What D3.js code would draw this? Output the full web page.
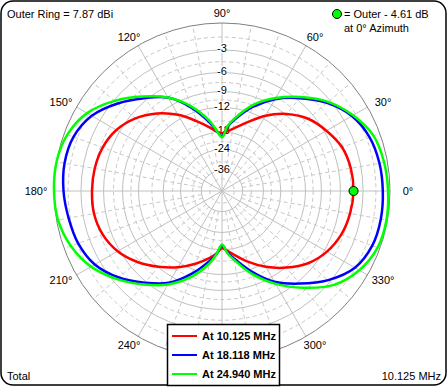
<!DOCTYPE html>
<html>
<head>
<meta charset="utf-8">
<script src="https://cdn.jsdelivr.net/npm/d3@7"></script>
<style>
  body { margin: 0; background: #fff; }
  svg { display: block; font-family: "Liberation Sans", Arial, sans-serif; }
</style>
</head>
<body>
<svg id="chart" width="448" height="387"></svg>
<script>
// azimuth angles (deg), denser near the nulls
const angles = [0, 10, 20, 30, 40, 50, 60, 70, 80, 85, 90, 95, 100, 110, 120, 130, 140, 150, 160, 170,
  180, 190, 200, 210, 220, 230, 240, 250, 260, 265, 270, 275, 280, 290, 300, 310, 320, 330, 340, 350];

// dB relative to outer ring
const gain10 = [-4.2, -4.3, -4.7, -5.7, -6.9, -8.8, -11.3, -14.3, -16.8, -17.7, -18.3, -17.8, -16.6, -14.0, -11.1, -8.7, -6.8, -5.5, -4.8, -4.5,
  -4.4, -4.4, -4.8, -5.7, -7.2, -9.1, -11.1, -13.3, -15.6, -16.9, -18.5, -17.7, -16.5, -13.8, -11.2, -8.9, -6.9, -5.6, -4.8, -4.4];
const gain18 = [-0.75, -0.85, -1.15, -1.95, -3.5, -5.6, -7.9, -10.8, -14.4, -16.4, -19.2, -17.6, -15.2, -11.0, -7.6, -5.6, -3.6, -1.9, -1.05, -0.85,
  -1.0, -1.3, -1.6, -2.3, -3.8, -5.8, -7.9, -11.1, -14.8, -16.7, -19.3, -17.2, -15.4, -11.6, -8.1, -5.65, -3.3, -1.55, -0.85, -0.7];
const gain24 = [-0.2, -0.35, -0.7, -1.8, -3.3, -5.4, -7.7, -10.4, -14.1, -16.2, -19.6, -17.5, -14.8, -10.7, -7.6, -5.3, -3.1, -1.3, -0.35, 0,
  0, -0.15, -0.75, -1.8, -3.5, -5.5, -7.6, -10.4, -14.1, -16.7, -19.6, -17.0, -15.0, -11.0, -7.7, -4.9, -2.4, -1.0, -0.25, -0.1];

const seriesNames = ["At 10.125 MHz", "At 18.118 MHz", "At 24.940 MHz"];
const seriesColors = ["#ff0000", "#0000ff", "#00ff00"];

// grid rings
const ringLabels = [-3, -6, -9, -12, -18, -24, -36];
const ringMinor = [-1.5, -4.5, -7.5, -10.5, -15, -21, -30, -45];
const angleTicks = d3.range(0, 360, 30);
const angleMinor = d3.range(0, 360, 10).filter(a => a % 30 !== 0);
// 270 sits under the legend
const angleLabels = angleTicks.filter(a => a !== 270);

const markerDb = gain10[0];

const svg = d3.select("#chart");
const cx = 222, cy = 191, R = 168;

// ARRL log scale: 0.89 per 2 dB
const rLin = d3.scaleLinear().domain([0, 1]).range([0, R]);
const r = db => rLin(Math.pow(0.89, -db / 2));
const toRad = a => (90 - a) * Math.PI / 180;

// frame
svg.append("rect")
  .attr("x", 1).attr("y", 1).attr("width", 445).attr("height", 384)
  .attr("rx", 12).attr("fill", "#fff")
  .attr("stroke", "#000").attr("stroke-width", 1.5);

const g = svg.append("g").attr("transform", `translate(${cx},${cy})`);

// minor rings
g.selectAll("circle.minor")
  .data(ringMinor)
  .enter()
  .append("circle")
  .attr("r", d => r(d))
  .attr("fill", "none")
  .attr("stroke", "#c8c8c8")
  .attr("stroke-dasharray", "4,3");

// major rings
g.selectAll("circle.major")
  .data(ringLabels)
  .enter()
  .append("circle")
  .attr("r", d => r(d))
  .attr("fill", "none")
  .attr("stroke", "#c0c0c0");

// spokes
g.selectAll("line.minor")
  .data(angleMinor)
  .enter()
  .append("line")
  .attr("x1", a => r(-36) * Math.sin(toRad(a)))
  .attr("y1", a => -r(-36) * Math.cos(toRad(a)))
  .attr("x2", a => R * Math.sin(toRad(a)))
  .attr("y2", a => -R * Math.cos(toRad(a)))
  .attr("stroke", "#c8c8c8")
  .attr("stroke-dasharray", "4,3");

g.selectAll("line.major")
  .data(angleTicks)
  .enter()
  .append("line")
  .attr("x1", 0).attr("y1", 0)
  .attr("x2", a => R * Math.sin(toRad(a)))
  .attr("y2", a => -R * Math.cos(toRad(a)))
  .attr("stroke", "#c0c0c0");

// outer ring
g.append("circle")
  .attr("r", R)
  .attr("fill", "none")
  .attr("stroke", "#808080");

// ring labels on the 90 deg spoke
const rl = g.selectAll("g.rl")
  .data(ringLabels)
  .enter()
  .append("g")
  .attr("transform", d => `translate(0,${-r(d) - 1.5})`);
rl.append("text")
  .attr("text-anchor", "middle")
  .attr("dy", "0.35em")
  .attr("font-size", 11)
  .text(d => d);
rl.each(function () {
  const b = d3.select(this).select("text").node().getBBox();
  d3.select(this).insert("rect", "text")
    .attr("x", b.x).attr("y", b.y + 1)
    .attr("width", b.width).attr("height", b.height - 2)
    .attr("fill", "#fff");
});

// angle labels
g.selectAll("text.ang")
  .data(angleLabels)
  .enter()
  .append("text")
  .attr("x", a => 186 * Math.cos(a * Math.PI / 180))
  .attr("y", a => -178 * Math.sin(a * Math.PI / 180))
  .attr("text-anchor", "middle")
  .attr("dy", "0.35em")
  .attr("font-size", 11)
  .text(a => a + "°");

// patterns
const line = d3.lineRadial()
  .angle(d => toRad(d[0]))
  .radius(d => r(d[1]))
  .curve(d3.curveCatmullRomClosed.alpha(0.5));

[gain10, gain18, gain24].forEach((vals, i) => {
  g.append("path")
    .datum(angles.map((a, j) => [a, vals[j]]))
    .attr("d", line)
    .attr("fill", "none")
    .attr("stroke", seriesColors[i])
    .attr("stroke-width", 2.5);
});

// marker at 0 deg azimuth
g.append("circle")
  .attr("cx", r(markerDb)).attr("cy", 0).attr("r", 4.5)
  .attr("fill", "#00ff00").attr("stroke", "#000");

// corner texts
svg.append("text").attr("x", 7).attr("y", 18).attr("font-size", 11).text("Outer Ring = 7.87 dBi");
svg.append("circle").attr("cx", 337).attr("cy", 14).attr("r", 4.5)
  .attr("fill", "#00ff00").attr("stroke", "#000");
svg.append("text").attr("x", 344).attr("y", 18).attr("font-size", 11).text("= Outer - 4.61 dB");
svg.append("text").attr("x", 344).attr("y", 32).attr("font-size", 11).text("at 0° Azimuth");
svg.append("text").attr("x", 7).attr("y", 380).attr("font-size", 11).text("Total");
svg.append("text").attr("x", 441).attr("y", 380).attr("font-size", 11)
  .attr("text-anchor", "end").text("10.125 MHz");

// legend
const lg = svg.append("g");
lg.append("rect")
  .attr("x", 167.5).attr("y", 324.5).attr("width", 112).attr("height", 61)
  .attr("fill", "#fff").attr("stroke", "#000").attr("stroke-width", 1.5);
const items = lg.selectAll("g.item")
  .data(seriesNames)
  .enter()
  .append("g")
  .attr("transform", (d, i) => `translate(172,${336 + i * 19})`);
items.append("line")
  .attr("x1", 0).attr("x2", 25).attr("y1", 0).attr("y2", 0)
  .attr("stroke", (d, i) => seriesColors[i]).attr("stroke-width", 2);
items.append("text")
  .attr("x", 30).attr("dy", "0.35em")
  .attr("font-size", 11).attr("font-weight", "bold")
  .text(d => d);
</script>
</body>
</html>
